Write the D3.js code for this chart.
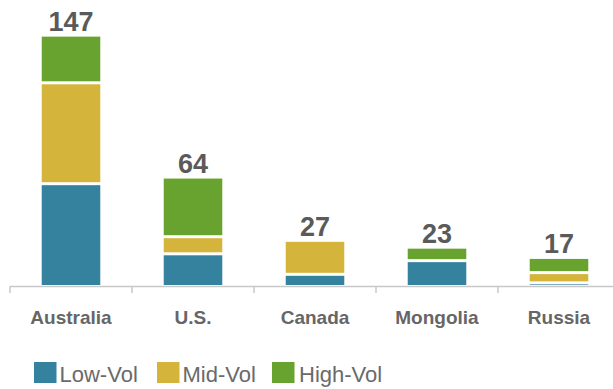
<!DOCTYPE html>
<html>
<head>
<meta charset="utf-8">
<script src="https://cdn.jsdelivr.net/npm/d3@7"></script>
<style>
  html, body { margin: 0; padding: 0; background: #fff; }
  svg { display: block; font-family: "Liberation Sans", Arial, sans-serif; }
</style>
</head>
<body>
<svg id="chart" width="613" height="389"></svg>
<script>
const categories = ["Australia", "U.S.", "Canada", "Mongolia", "Russia"];
const seriesNames = ["Low-Vol", "Mid-Vol", "High-Vol"];
const lowVol  = [61, 20, 8, 16, 3];
const midVol  = [59, 10, 19, 0, 6];
const highVol = [27, 34, 0, 7, 8];
const totals  = [147, 64, 27, 23, 17];
const colors  = ["#35829E", "#D5B43B", "#68A22F"];

const svg = d3.select("#chart");

const x = d3.scaleBand().domain(categories).range([10, 620]).paddingInner(0.52).paddingOuter(0.26);
const y = d3.scaleLinear().domain([0, 150]).range([288, 31.5]);

const table = categories.map((c, i) => ({ cat: c, "Low-Vol": lowVol[i], "Mid-Vol": midVol[i], "High-Vol": highVol[i] }));
const stacked = d3.stack().keys(seriesNames)(table);

svg.append("defs").append("clipPath").attr("id", "clip")
  .append("rect").attr("x", 0).attr("y", 0).attr("width", 613).attr("height", 285);

const gap = 1.5;
const gBars = svg.append("g").attr("clip-path", "url(#clip)");
stacked.forEach((layer, li) => {
  gBars.selectAll(null).data(layer).join("rect")
    .filter(d => d[1] - d[0] > 0)
    .attr("x", d => x(d.data.cat))
    .attr("width", x.bandwidth())
    .attr("y", d => {
      const isTop = d[1] >= totals[categories.indexOf(d.data.cat)];
      return y(d[1]) + (isTop ? 0 : gap);
    })
    .attr("height", d => {
      const isTop = d[1] >= totals[categories.indexOf(d.data.cat)];
      const top = y(d[1]) + (isTop ? 0 : gap);
      const bot = y(d[0]) - (d[0] > 0 ? gap : 0);
      return Math.max(0, bot - top);
    })
    .attr("fill", colors[li]);
});

// axis line and ticks
const step = x.step();
svg.append("line").attr("x1", 10).attr("x2", 613).attr("y1", 286.5).attr("y2", 286.5)
  .attr("stroke", "#c8c8c8").attr("stroke-width", 1.5);
const tickPos = categories.map(c => x(c) - step * x.paddingInner() / 2);
svg.selectAll(".tick").data(tickPos).join("line")
  .attr("x1", d => d).attr("x2", d => d).attr("y1", 286).attr("y2", 293)
  .attr("stroke", "#c8c8c8").attr("stroke-width", 1.5);

// category labels
svg.selectAll(".cat").data(categories).join("text")
  .attr("x", d => x(d) + x.bandwidth() / 2)
  .attr("y", 324)
  .attr("text-anchor", "middle")
  .attr("font-size", 19).attr("font-weight", "bold")
  .attr("fill", "#666")
  .text(d => d);

// total labels
svg.selectAll(".tot").data(categories).join("text")
  .attr("x", d => x(d) + x.bandwidth() / 2)
  .attr("y", (d, i) => y(totals[i]) - 5.5)
  .attr("text-anchor", "middle")
  .attr("font-size", 27).attr("font-weight", "bold")
  .attr("fill", "#5a5a5a")
  .text((d, i) => totals[i]);

// legend
const legendX = [34, 157, 272];
const lg = svg.selectAll(".lg").data(seriesNames).join("g")
  .attr("transform", (d, i) => `translate(${legendX[i]},362)`);
lg.append("rect").attr("width", 22.5).attr("height", 21).attr("fill", (d, i) => colors[i]);
lg.append("text").attr("x", (d, i) => i === 2 ? 27 : 25.5).attr("y", 19.5)
  .attr("font-size", 22).attr("fill", "#6a6a6a").text(d => d);
</script>
</body>
</html>
